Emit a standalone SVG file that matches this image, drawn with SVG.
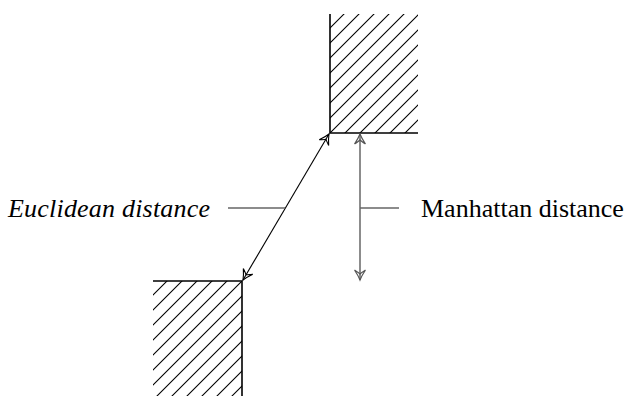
<svg xmlns="http://www.w3.org/2000/svg" width="628" height="396" viewBox="0 0 628 396">
<style>
.edge{stroke:#000;stroke-width:1.6;fill:none}
.gray{stroke:#666;stroke-width:1.5;fill:none}
.thin{stroke:#000;stroke-width:1.1;fill:none}
.lab{font-family:"Liberation Serif","Times New Roman",serif;font-size:26px;fill:#000}
</style>
<defs>
<pattern id="hatch" patternUnits="userSpaceOnUse" x="13" y="0" width="15" height="15">
<path d="M-1,16 L16,-1 M-1,1 L1,-1 M14,16 L16,14" stroke="#000" stroke-width="1.1" fill="none"/>
</pattern>
<marker id="ahB" markerUnits="userSpaceOnUse" markerWidth="16" markerHeight="16" viewBox="-13 -8 16 16" refX="0" refY="0" orient="auto-start-reverse">
<path d="M-10,-5.5 Q-4,-1.5 0,0 Q-4,1.5 -10,5.5 M-10,-5.5 Q-7,-1 -6,0 Q-7,1 -10,5.5" stroke="#000" stroke-width="1.1" fill="none"/>
</marker>
<marker id="ahG" markerUnits="userSpaceOnUse" markerWidth="16" markerHeight="16" viewBox="-13 -8 16 16" refX="0" refY="0" orient="auto-start-reverse">
<path d="M-10,-5.5 Q-4,-1.5 0,0 Q-4,1.5 -10,5.5 M-10,-5.5 Q-7,-1 -6,0 Q-7,1 -10,5.5" stroke="#555" stroke-width="1.2" fill="none"/>
</marker>
</defs>
<g id="top-block">
<rect x="330" y="14" width="88" height="119" fill="url(#hatch)"/>
<path class="edge" d="M330,14 L330,133 L418,133"/>
</g>
<g id="bottom-block">
<rect x="153" y="281" width="89" height="115" fill="url(#hatch)"/>
<path class="edge" d="M153,281 L242,281 L242,396"/>
</g>
<g id="connectors">
<line class="thin" x1="243" y1="280" x2="329" y2="134" marker-start="url(#ahB)" marker-end="url(#ahB)"/>
<line class="gray" x1="360" y1="134" x2="360" y2="280" marker-start="url(#ahG)" marker-end="url(#ahG)"/>
<line class="gray" x1="228" y1="208" x2="285" y2="208"/>
<line class="gray" x1="360" y1="208" x2="399" y2="208"/>
</g>
<g id="euclidean-label">
<text class="lab" x="8" y="217" font-style="italic" textLength="202">Euclidean distance</text>
</g>
<g id="manhattan-label">
<text class="lab" x="421" y="217">Manhattan distance</text>
</g>
</svg>
